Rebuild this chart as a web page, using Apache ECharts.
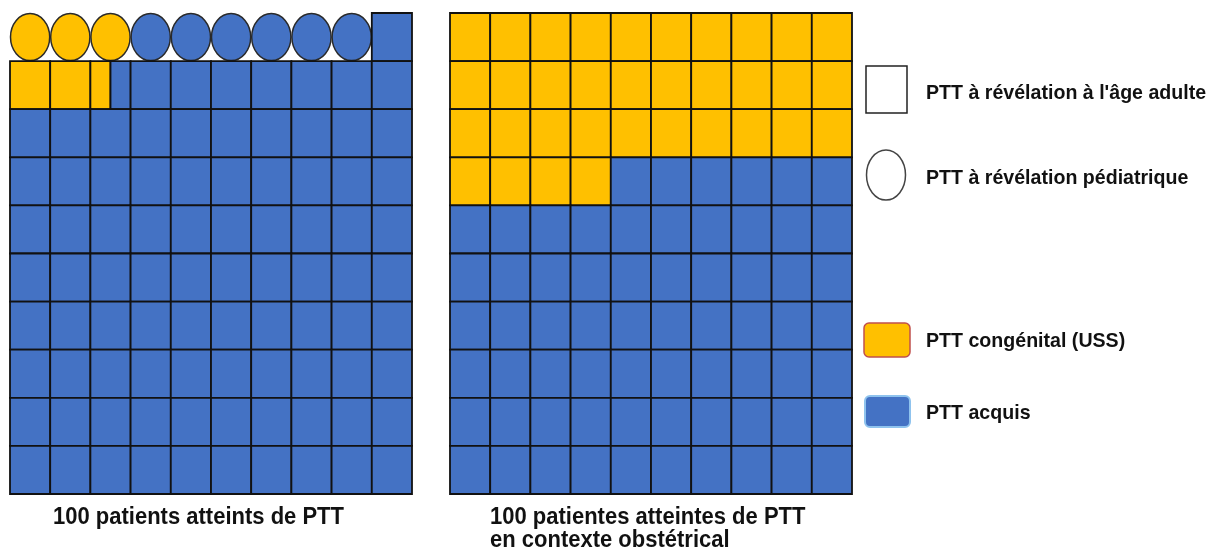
<!DOCTYPE html>
<html>
<head>
<meta charset="utf-8">
<script src="https://cdn.jsdelivr.net/npm/echarts@6/dist/echarts.min.js"></script>
<style>html,body{margin:0;padding:0;background:#fff}#c{width:1219px;height:549px}</style>
</head>
<body>
<div id="c"></div>
<script>
// ---- data ----
const categories = ['PTT congénital (USS)', 'PTT acquis'];
const shapeLabels = ["PTT à révélation à l'âge adulte", 'PTT à révélation pédiatrique'];
const leftTitleLines = ['100 patients atteints de PTT'];
const rightTitleLines = ['100 patientes atteintes de PTT', 'en contexte obstétrical'];
// number of congenital (yellow) cells in each row of the 10x10 waffle, top row first
const leftCongenitalPerRow = [3, 2.5, 0, 0, 0, 0, 0, 0, 0, 0];
const rightCongenitalPerRow = [10, 10, 10, 4, 0, 0, 0, 0, 0, 0];
// number of paediatric-onset patients (ellipses) in each row, drawn from the left
const leftPediatricPerRow = [9, 0, 0, 0, 0, 0, 0, 0, 0, 0];
const rightPediatricPerRow = [0, 0, 0, 0, 0, 0, 0, 0, 0, 0];

const COLORS = ['#FFC000', '#4472C4'];

function buildCells(congPerRow, pedPerRow) {
  const cong = [], acq = [];
  for (let r = 0; r < congPerRow.length; r++) {
    for (let c = 0; c < 10; c++) {
      const shape = c < pedPerRow[r] ? 1 : 0;
      const portion = Math.max(0, Math.min(1, congPerRow[r] - c));
      if (portion > 0) cong.push([c, r, shape, 0, portion]);
      if (portion < 1) acq.push([c, r, shape, portion, 1 - portion]);
    }
  }
  return [cong, acq];
}
const leftCells = buildCells(leftCongenitalPerRow, leftPediatricPerRow);
const rightCells = buildCells(rightCongenitalPerRow, rightPediatricPerRow);

function renderItem(params, api) {
  const c = api.value(0), r = api.value(1), shape = api.value(2), off = api.value(3), w = api.value(4);
  const p0 = api.coord([c + off, r]);
  const p1 = api.coord([c + off + w, r + 1]);
  const x = Math.min(p0[0], p1[0]), y = Math.min(p0[1], p1[1]);
  const wd = Math.abs(p1[0] - p0[0]), ht = Math.abs(p1[1] - p0[1]);
  const style = { fill: api.visual('color'), stroke: '#111', lineWidth: 1.8 };
  if (shape === 1) {
    return { type: 'ellipse', shape: { cx: x + wd / 2, cy: y + ht / 2, rx: wd / 2 - 0.5, ry: ht / 2 - 0.5 }, style: Object.assign({}, style, { stroke: '#2a2a2a', lineWidth: 1.5 }) };
  }
  return { type: 'rect', shape: { x: x, y: y, width: wd, height: ht }, style: style };
}

const FONT = "'Liberation Sans', Arial, sans-serif";
const grids = [
  { left: 10, top: 13, width: 402, height: 481 },
  { left: 450, top: 13, width: 402, height: 481 }
];
const xAxes = grids.map((g, i) => ({ type: 'value', gridIndex: i, min: 0, max: 10, show: false }));
const yAxes = grids.map((g, i) => ({ type: 'value', gridIndex: i, min: 0, max: 10, inverse: true, show: false }));

const series = [];
[leftCells, rightCells].forEach((cells, gi) => {
  categories.forEach((name, ci) => {
    series.push({
      type: 'custom', name: name, xAxisIndex: gi, yAxisIndex: gi,
      itemStyle: { color: COLORS[ci] },
      renderItem: renderItem, data: cells[ci], animation: false
    });
  });
});

function label(text, x, y, size, sy) {
  return { type: 'text', x: x, y: y, scaleY: sy, silent: true,
    style: { text: text, fontFamily: FONT, fontSize: size, fontWeight: 'bold', fill: '#111', verticalAlign: 'middle', align: 'left' } };
}

const graphics = [
  // shape legend
  { type: 'rect', shape: { x: 866, y: 66, width: 41, height: 47 }, style: { fill: '#fff', stroke: '#222', lineWidth: 1.5 } },
  label(shapeLabels[0], 926, 93.5, 19.6, 1.03),
  { type: 'ellipse', shape: { cx: 886, cy: 175, rx: 19.5, ry: 25 }, style: { fill: '#fff', stroke: '#444', lineWidth: 1.5 } },
  label(shapeLabels[1], 926, 178.5, 19.6, 1.03),
  // colour legend
  { type: 'rect', shape: { x: 864, y: 323, width: 46, height: 34, r: 5 }, style: { fill: COLORS[0], stroke: '#C0504D', lineWidth: 1.5 } },
  label(categories[0], 926, 341.5, 19.6, 1.03),
  { type: 'rect', shape: { x: 865, y: 396, width: 45, height: 31, r: 5 }, style: { fill: COLORS[1], stroke: '#8FC3EE', lineWidth: 2 } },
  label(categories[1], 926, 413, 19.6, 1.03)
];
leftTitleLines.forEach((t, i) => graphics.push(label(t, 53, 518 + i * 23, 22, 1.05)));
rightTitleLines.forEach((t, i) => graphics.push(label(t, 490, 518 + i * 23, 22, 1.05)));

const chart = echarts.init(document.getElementById('c'), null, { renderer: 'canvas' });
chart.setOption({
  animation: false,
  grid: grids,
  xAxis: xAxes,
  yAxis: yAxes,
  series: series,
  graphic: graphics
});
</script>
</body>
</html>
